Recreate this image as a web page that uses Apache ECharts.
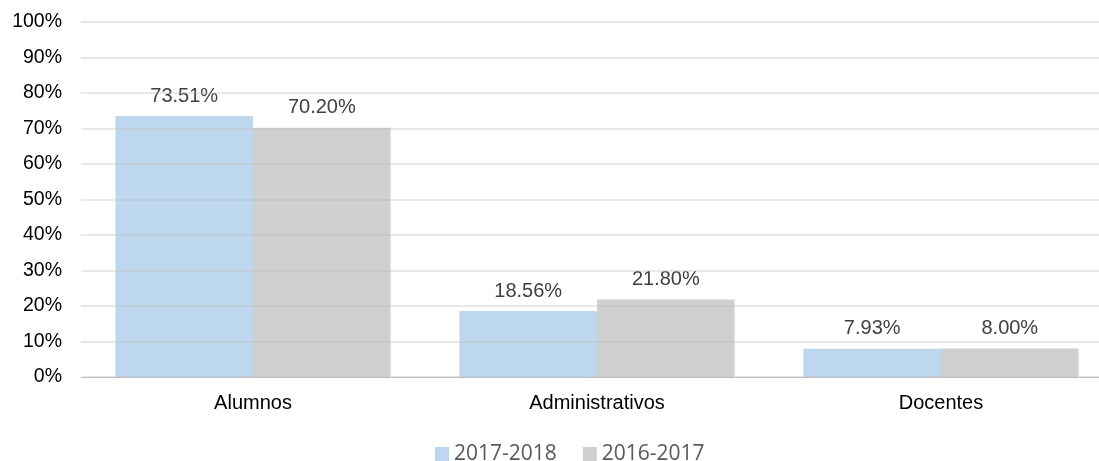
<!DOCTYPE html>
<html>
<head>
<meta charset="utf-8">
<script src="https://cdn.jsdelivr.net/npm/echarts@6/dist/echarts.min.js"></script>
<style>
  html, body { margin: 0; padding: 0; background: #fff; }
  #chart { width: 1099px; height: 461px; }
</style>
</head>
<body>
<div id="chart"></div>
<script>
const categories = ['Alumnos', 'Administrativos', 'Docentes']
const seriesNames = ['2017-2018', '2016-2017']
const values2017 = [73.51, 18.56, 7.93]
const values2016 = [70.2, 21.8, 8.0]
const colors = ['#BDD7EE', '#D0D0D0']

const chart = echarts.init(document.getElementById('chart'))

const label = {
  show: true,
  position: 'top',
  distance: 10,
  fontFamily: 'Liberation Sans, Arial',
  fontSize: 20,
  color: '#404040',
  formatter: p => p.value.toFixed(2) + '%',
}

chart.setOption({
  animation: false,
  color: colors,
  grid: { left: 81, top: 22, width: 1032, height: 355, containLabel: false, outerBoundsMode: 'none' },
  legend: {
    data: seriesNames,
    top: 442,
    left: 435,
    padding: 0,
    itemWidth: 14,
    itemHeight: 14,
    itemGap: 26,
    icon: 'rect',
    textStyle: { fontFamily: 'Open Sans', fontSize: 21, color: '#595959', lineHeight: 24 },
  },
  xAxis: {
    type: 'category',
    data: categories,
    axisTick: { show: false },
    axisLine: { lineStyle: { color: '#BFBFBF', width: 1 } },
    axisLabel: { margin: 16, fontFamily: 'Liberation Sans, Arial', fontSize: 20, color: '#000' },
    z: 3,
  },
  yAxis: {
    type: 'value',
    min: 0,
    max: 100,
    interval: 10,
    axisLine: { show: false },
    axisTick: { show: false },
    axisLabel: { margin: 19, formatter: '{value}%', fontFamily: 'Liberation Sans, Arial', fontSize: 19.5, color: '#000' },
    splitLine: { lineStyle: { color: 'rgba(190,190,190,0.35)', width: 2 } },
    z: 3,
  },
  series: [
    { name: seriesNames[0], type: 'bar', data: values2017, barGap: '0%', barCategoryGap: '20%', label },
    { name: seriesNames[1], type: 'bar', data: values2016, barGap: '0%', barCategoryGap: '20%', label },
  ],
})
</script>
</body>
</html>
